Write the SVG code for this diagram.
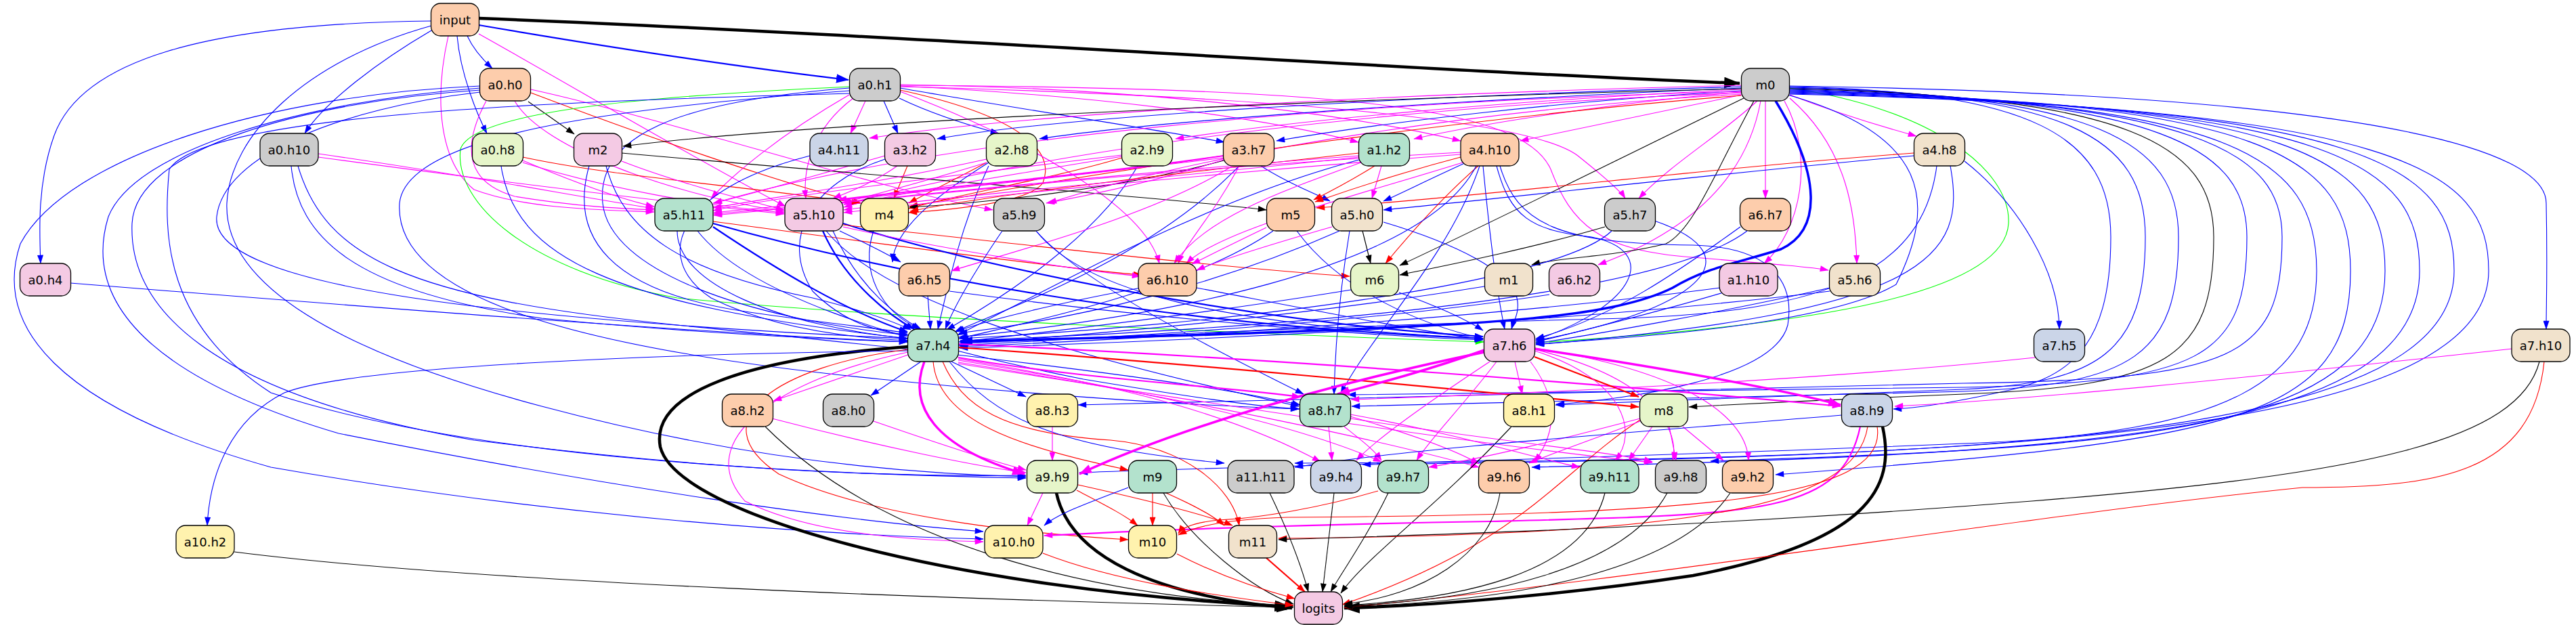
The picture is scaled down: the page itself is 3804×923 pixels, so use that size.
<svg xmlns="http://www.w3.org/2000/svg" width="3804" height="923" viewBox="0 0 3804 923">
<style>
.nd rect{stroke:#000;stroke-width:1.3}
.nd text{font-family:"DejaVu Sans","Liberation Sans",sans-serif;font-size:18px;text-anchor:middle;fill:#000}
.c1 rect{fill:#b3e2cd}.c2 rect{fill:#fdcdac}.c3 rect{fill:#cbd5e8}.c4 rect{fill:#f4cae4}
.c5 rect{fill:#e6f5c9}.c6 rect{fill:#fff2ae}.c7 rect{fill:#f1e2cc}.c8 rect{fill:#cccccc}
#edges path{fill:none;stroke-width:1.1}
#edges .b{stroke:#00f;marker-end:url(#ab)}
#edges .m{stroke:#f0f;marker-end:url(#am)}
#edges .r{stroke:#f00;marker-end:url(#ar)}
#edges .k{stroke:#000;marker-end:url(#ak)}
#edges .g{stroke:#0f0;marker-end:url(#ag)}
#edges .w2{stroke-width:2.2}
#edges .w3{stroke-width:3.5}
#edges .w4{stroke-width:4.5}
#edges .bB{marker-end:url(#abB)}
#edges .mB{marker-end:url(#amB)}
#edges .kB{marker-end:url(#akB)}
</style>
<defs>
<marker id="ab" viewBox="0 0 10 7" refX="9.5" refY="3.5" markerWidth="14" markerHeight="9" markerUnits="userSpaceOnUse" orient="auto"><path d="M0,0L10,3.5L0,7z" fill="#00f"/></marker>
<marker id="am" viewBox="0 0 10 7" refX="9.5" refY="3.5" markerWidth="14" markerHeight="9" markerUnits="userSpaceOnUse" orient="auto"><path d="M0,0L10,3.5L0,7z" fill="#f0f"/></marker>
<marker id="ar" viewBox="0 0 10 7" refX="9.5" refY="3.5" markerWidth="14" markerHeight="9" markerUnits="userSpaceOnUse" orient="auto"><path d="M0,0L10,3.5L0,7z" fill="#f00"/></marker>
<marker id="ak" viewBox="0 0 10 7" refX="9.5" refY="3.5" markerWidth="14" markerHeight="9" markerUnits="userSpaceOnUse" orient="auto"><path d="M0,0L10,3.5L0,7z" fill="#000"/></marker>
<marker id="ag" viewBox="0 0 10 7" refX="9.5" refY="3.5" markerWidth="14" markerHeight="9" markerUnits="userSpaceOnUse" orient="auto"><path d="M0,0L10,3.5L0,7z" fill="#0f0"/></marker>
<marker id="abB" viewBox="0 0 10 7" refX="9.5" refY="3.5" markerWidth="19" markerHeight="14" markerUnits="userSpaceOnUse" orient="auto"><path d="M0,0L10,3.5L0,7z" fill="#00f"/></marker>
<marker id="amB" viewBox="0 0 10 7" refX="9.5" refY="3.5" markerWidth="19" markerHeight="14" markerUnits="userSpaceOnUse" orient="auto"><path d="M0,0L10,3.5L0,7z" fill="#f0f"/></marker>
<marker id="akB" viewBox="0 0 10 7" refX="9.5" refY="3.5" markerWidth="24" markerHeight="17" markerUnits="userSpaceOnUse" orient="auto"><path d="M0,0L10,3.5L0,7z" fill="#000"/></marker>
</defs>
<rect width="3804" height="923" fill="#fff"/>
<g id="edges">
<path class="k w4 kB" d="M707,27 C1300,50 2100,105 2569,123"/>
<path class="b w2 bB" d="M707,37 C900,70 1100,100 1253,118"/>
<path class="b" d="M690,53 C700,75 715,90 727,101"/>
<path class="b" d="M637,45 C560,90 480,150 450,197"/>
<path class="b" d="M675,53 C680,110 705,170 719,197"/>
<path class="b" d="M637,31 C300,35 120,90 80,200 C55,270 58,340 60,389"/>
<path class="b" d="M637,38 C450,90 340,200 335,300 C330,420 500,520 800,600 C1100,680 1350,700 1515,704"/>
<path class="m" d="M662,53 C640,150 650,240 700,280 C780,310 900,310 966,313"/>
<path class="m" d="M707,50 C850,130 1000,220 1160,305"/>
<path class="k" d="M780,150 L848,198"/>
<path class="r" d="M784,137 C950,200 1150,270 1272,300"/>
<path class="m" d="M784,132 C1000,180 1300,280 1466,310"/>
<path class="m" d="M718,149 C680,220 690,270 760,290 C850,305 920,308 966,310"/>
<path class="m" d="M760,149 C800,220 1000,290 1158,312"/>
<path class="b" d="M709,127 C400,140 100,230 30,360 C-10,480 80,600 400,690 C800,760 1200,790 1452,796"/>
<path class="b" d="M709,130 C450,150 200,220 160,320 C120,450 230,560 500,640 C900,720 1250,770 1452,785"/>
<path class="b" d="M709,133 C450,150 200,220 195,330 C190,450 300,580 700,650 C1100,700 1350,704 1515,702"/>
<path class="b" d="M709,136 C500,160 330,230 320,320 C310,420 700,470 1340,500"/>
<path class="m" d="M1278,149 L1256,197"/>
<path class="b" d="M1305,149 L1326,197"/>
<path class="b" d="M1328,145 C1380,170 1430,185 1475,197"/>
<path class="b" d="M1329,130 C1500,160 1700,190 1808,210"/>
<path class="m" d="M1329,127 C1600,140 1850,170 2006,210"/>
<path class="m" d="M1329,125 C1700,130 2000,170 2157,208"/>
<path class="m" d="M1329,128 C1800,140 2250,170 2330,230 C2380,270 2395,285 2400,293"/>
<path class="m" d="M1329,126 C2000,130 2250,160 2290,250 C2320,330 2360,370 2500,380 C2620,390 2680,395 2700,399"/>
<path class="m" d="M1254,140 C1150,200 1080,260 1050,293"/>
<path class="m" d="M1260,145 C1200,190 1185,250 1190,293"/>
<path class="r" d="M1329,133 C1500,170 1560,220 1540,270 C1520,300 1400,310 1342,314"/>
<path class="g" d="M1254,128 C1000,140 700,160 680,220 C670,300 780,400 1000,440 C1300,470 1900,495 2191,505"/>
<path class="b" d="M1254,130 C1000,150 880,200 890,300 C900,400 1100,470 1340,495"/>
<path class="b" d="M1254,134 C900,160 600,200 590,300 C580,450 900,520 1300,560 C1600,590 1800,600 1918,604"/>
<path class="b" d="M1254,138 C800,150 300,170 250,250 C240,350 245,480 400,580 C700,680 1200,700 1515,706"/>
<path class="m" d="M1329,135 C1500,200 1690,300 1712,389"/>
<path class="m" d="M2571,126 C2000,140 1500,170 1284,204"/>
<path class="b" d="M2571,128 C2000,145 1550,175 1384,205"/>
<path class="b" d="M2571,130 C2100,150 1700,180 1535,205"/>
<path class="m" d="M2571,132 C2200,150 1900,180 1736,205"/>
<path class="b" d="M2571,134 C2300,150 2050,180 1885,208"/>
<path class="k" d="M2571,131 C2000,145 1200,180 920,216"/>
<path class="m" d="M2571,136 C2400,150 2200,180 2088,205"/>
<path class="m" d="M2572,140 C2450,165 2330,190 2245,208"/>
<path class="m" d="M2571,135 C2000,150 1400,200 1054,300"/>
<path class="m" d="M2571,137 C2100,155 1600,210 1246,302"/>
<path class="m" d="M2571,139 C2200,160 1800,220 1548,300"/>
<path class="r" d="M2571,141 C2200,170 1700,240 1343,305"/>
<path class="m" d="M2595,149 C2540,200 2470,240 2420,293"/>
<path class="m" d="M2607,149 L2607,293"/>
<path class="m" d="M2643,140 C2720,170 2790,190 2830,201"/>
<path class="m" d="M2643,145 C2730,220 2740,320 2742,389"/>
<path class="m" d="M2635,149 C2680,230 2660,340 2605,389"/>
<path class="m" d="M2600,149 C2580,260 2500,340 2360,391"/>
<path class="k" d="M2590,149 C2530,260 2500,340 2460,360 C2380,380 2300,380 2262,391"/>
<path class="k" d="M2575,145 C2400,230 2200,330 2067,392"/>
<path class="b w3 bB" d="M2622,149 C2690,260 2690,340 2630,368 C2560,390 2520,395 2470,425 C2380,470 2200,478 1900,490 C1700,498 1500,502 1418,504"/>
<path class="g" d="M2643,130 C2850,160 2970,250 2966,330 C2960,430 2700,480 2268,506"/>
<path class="b" d="M2640,140 C2850,200 2860,300 2800,420 C2700,480 2400,500 2268,508"/>
<path class="b" d="M2643,128 C3000,135 3117,200 3117,350 C3117,520 3050,560 2950,580 C2880,595 2830,603 2796,604"/>
<path class="b" d="M2643,129 C3050,138 3168,200 3168,350 C3168,520 3100,565 2900,575 C2600,588 2400,595 2297,598"/>
<path class="b" d="M2643,130 C3100,140 3217,210 3217,350 C3217,525 3150,568 2900,578 C2500,590 2150,598 1996,600"/>
<path class="k" d="M2643,131 C3150,142 3269,215 3269,350 C3269,530 3200,570 2900,582 C2700,590 2550,598 2494,601"/>
<path class="b" d="M2643,132 C3200,145 3318,220 3318,350 C3318,530 3250,565 2900,572 C2500,578 2150,580 1990,583"/>
<path class="b" d="M2643,133 C3250,148 3370,225 3370,350 C3370,530 3300,560 2900,566 C2400,575 1900,590 1592,598"/>
<path class="b" d="M2643,134 C3300,150 3421,230 3421,400 C3421,560 3300,640 2900,655 C2300,680 1800,690 1594,698"/>
<path class="b" d="M2643,135 C3350,150 3471,230 3471,400 C3471,620 3300,650 2622,701"/>
<path class="b" d="M2643,136 C3400,152 3522,235 3522,400 C3522,630 3200,660 2526,681"/>
<path class="b" d="M2643,137 C3450,155 3573,240 3573,400 C3573,640 3100,670 2262,690"/>
<path class="b" d="M2643,138 C3500,157 3624,245 3624,400 C3624,640 3000,675 2012,686"/>
<path class="b" d="M2643,139 C3550,160 3675,250 3675,400 C3675,650 2900,680 1912,684"/>
<path class="b" d="M2643,127 C3500,140 3760,220 3760,300 C3762,400 3760,450 3760,486"/>
<path class="r" d="M2826,226 C2500,250 2200,290 1944,307"/>
<path class="b" d="M2826,230 C2500,260 2250,290 2043,310"/>
<path class="b" d="M2901,238 C2980,300 3040,400 3041,486"/>
<path class="b" d="M2860,245 C2840,400 2700,460 2400,470 C2000,480 1700,495 1418,507"/>
<path class="b" d="M2880,245 C2905,380 2850,460 2268,509"/>
<path class="m" d="M470,227 C700,260 850,290 966,308"/>
<path class="m" d="M470,232 C750,270 1000,300 1158,316"/>
<path class="b" d="M430,245 C440,350 520,430 800,470 C1000,490 1200,500 1340,505"/>
<path class="b" d="M440,245 C480,380 600,440 1000,480 C1500,530 1800,570 1920,598"/>
<path class="m" d="M772,237 C850,270 920,295 966,305"/>
<path class="m" d="M772,240 C900,280 1050,305 1158,314"/>
<path class="r" d="M772,232 C900,260 1100,275 1270,300"/>
<path class="b" d="M740,245 C760,380 900,450 1340,500"/>
<path class="k" d="M918,226 C1300,260 1700,290 1870,310"/>
<path class="m" d="M918,238 C1000,270 1100,295 1158,310"/>
<path class="b" d="M870,245 C840,350 900,430 1100,460 C1200,475 1300,485 1340,492"/>
<path class="b" d="M895,245 C920,340 1000,400 1200,440 C1280,460 1320,475 1345,487"/>
<path class="b" d="M1196,230 C1000,280 960,380 1050,440 C1150,490 1280,500 1341,503"/>
<path class="r" d="M1340,245 L1320,293"/>
<path class="m" d="M1307,230 C1200,260 1100,290 1053,300"/>
<path class="m" d="M1325,245 C1290,270 1250,285 1230,293"/>
<path class="b" d="M1307,235 C1200,270 1150,350 1200,430 C1250,480 1300,490 1342,495"/>
<path class="r" d="M1457,240 C1400,270 1360,290 1342,300"/>
<path class="m" d="M1457,235 C1300,270 1150,290 1053,307"/>
<path class="m" d="M1457,240 C1360,270 1280,290 1244,300"/>
<path class="b" d="M1460,240 C1380,290 1320,340 1318,387"/>
<path class="b" d="M1460,245 C1420,330 1400,420 1385,486"/>
<path class="r" d="M1657,233 C1550,265 1400,290 1342,308"/>
<path class="m" d="M1657,229 C1400,260 1150,290 1053,311"/>
<path class="m" d="M1657,231 C1450,265 1300,290 1246,306"/>
<path class="b" d="M1680,245 C1620,350 1480,440 1398,487"/>
<path class="b" d="M1862,245 C1900,270 1940,285 1964,297"/>
<path class="k" d="M1807,237 C1650,280 1450,300 1343,306"/>
<path class="m" d="M1807,236 C1700,270 1600,290 1545,300"/>
<path class="m" d="M1807,233 C1500,270 1200,300 1054,314"/>
<path class="m w2" d="M1807,230 C1600,260 1350,280 1238,295"/>
<path class="m" d="M1820,245 C1700,320 1500,370 1405,400"/>
<path class="b" d="M1830,245 C1700,380 1500,450 1410,490"/>
<path class="m" d="M1830,245 C1790,320 1750,360 1740,389"/>
<path class="r" d="M2030,245 C1990,270 1960,285 1940,295"/>
<path class="m" d="M2040,245 L2026,293"/>
<path class="r" d="M2007,226 C1700,260 1450,290 1344,312"/>
<path class="m" d="M2010,240 C1900,280 1780,320 1734,389"/>
<path class="m" d="M2007,230 C1600,260 1250,300 1054,316"/>
<path class="m" d="M2007,232 C1700,265 1400,290 1246,310"/>
<path class="b" d="M2007,236 C1800,290 1600,400 1414,495"/>
<path class="b" d="M2165,240 C2110,265 2070,285 2043,297"/>
<path class="r" d="M2157,232 C2050,260 1980,285 1942,298"/>
<path class="r" d="M2183,245 C2120,300 2070,360 2046,389"/>
<path class="b" d="M2185,245 C2140,380 2020,500 1980,582"/>
<path class="b" d="M2180,245 C2100,400 1700,470 1416,498"/>
<path class="b" d="M2210,245 C2230,320 2260,340 2350,350 C2450,370 2420,450 2268,502"/>
<path class="b" d="M2215,245 C2240,330 2300,360 2500,362 C2620,365 2650,420 2640,480 C2620,560 2400,590 2298,597"/>
<path class="m" d="M2157,225 C1700,250 1300,295 1054,318"/>
<path class="m" d="M2157,228 C1800,255 1450,290 1246,314"/>
<path class="m" d="M2160,240 C2000,290 1800,340 1752,389"/>
<path class="b" d="M2190,245 C2200,350 2210,430 2222,486"/>
<path class="b w2" d="M1053,335 C1150,400 1250,460 1340,490"/>
<path class="b w2" d="M1053,330 C1300,400 1700,480 2190,500"/>
<path class="b" d="M1030,341 C1100,430 1300,500 1600,560 C1750,585 1850,600 1919,604"/>
<path class="r" d="M1053,327 C1300,360 1600,400 1686,406"/>
<path class="b" d="M1000,341 C1000,420 1150,480 1340,500"/>
<path class="b w2" d="M1215,341 C1250,420 1320,470 1350,486"/>
<path class="b w2" d="M1245,330 C1500,410 1900,480 2190,497"/>
<path class="b" d="M1240,341 C1280,360 1310,375 1330,387"/>
<path class="m" d="M1245,335 C1400,370 1600,400 1684,408"/>
<path class="r" d="M1245,332 C1500,360 1800,395 1993,408"/>
<path class="b" d="M1230,341 C1270,430 1330,470 1360,486"/>
<path class="b" d="M1220,341 C1300,440 1550,520 1918,600"/>
<path class="b" d="M1290,341 C1270,400 1300,460 1358,486"/>
<path class="b" d="M1480,341 C1440,400 1410,450 1396,486"/>
<path class="b" d="M1530,341 C1600,430 1800,480 2190,500"/>
<path class="b" d="M1530,341 C1600,420 1800,520 1925,582"/>
<path class="m" d="M1870,336 C1820,360 1780,380 1760,390"/>
<path class="b" d="M1880,341 C1750,430 1500,480 1416,500"/>
<path class="b" d="M1915,341 C1980,430 2100,480 2190,500"/>
<path class="k" d="M2012,341 L2024,389"/>
<path class="m" d="M1967,335 C1880,360 1800,385 1767,399"/>
<path class="b" d="M1993,341 C1980,420 1972,500 1970,582"/>
<path class="b" d="M1978,341 C1800,420 1600,470 1416,492"/>
<path class="b" d="M2043,328 C2150,360 2230,400 2240,440 C2245,460 2235,475 2232,486"/>
<path class="k" d="M2370,335 C2250,370 2120,395 2067,406"/>
<path class="b" d="M2443,326 C2600,380 2500,460 2268,503"/>
<path class="b" d="M2380,341 C2300,420 1800,480 1418,500"/>
<path class="b" d="M2570,335 C2480,400 2380,470 2268,500"/>
<path class="b" d="M2580,341 C2450,440 1900,485 1418,503"/>
<path class="b" d="M104,418 C500,450 1000,490 1340,505"/>
<path class="b" d="M1370,437 L1374,486"/>
<path class="b" d="M1402,430 C1700,470 2000,495 2190,502"/>
<path class="b" d="M1685,425 C1550,450 1450,475 1412,490"/>
<path class="b" d="M1767,425 C1950,460 2100,490 2190,501"/>
<path class="b" d="M2066,432 C2130,455 2170,475 2190,488"/>
<path class="b" d="M1995,428 C1800,460 1550,490 1416,505"/>
<path class="b" d="M2192,423 C1900,470 1600,495 1416,508"/>
<path class="b" d="M2288,435 C2000,480 1600,500 1416,510"/>
<path class="b" d="M2540,425 C2200,470 1700,500 1417,512"/>
<path class="b" d="M2545,432 C2450,460 2330,490 2268,505"/>
<path class="b" d="M2702,425 C2550,460 2350,495 2268,507"/>
<path class="b" d="M2702,430 C2300,480 1700,505 1417,514"/>
<path class="k w4 kB" d="M1341,512 C1100,530 960,580 975,660 C1000,760 1400,870 1905,896"/>
<path class="b" d="M1341,518 C1000,522 520,540 420,580 C340,620 310,700 306,776"/>
<path class="m" d="M1341,524 L1142,592"/>
<path class="b" d="M1360,534 L1286,584"/>
<path class="b" d="M1405,534 L1515,586"/>
<path class="m w3 mB" d="M1365,534 C1340,600 1380,660 1513,700"/>
<path class="r" d="M1378,534 C1385,620 1500,660 1666,694"/>
<path class="r" d="M1392,534 C1420,600 1480,640 1640,650 C1750,660 1820,720 1830,776"/>
<path class="b" d="M1402,534 C1470,620 1560,660 1808,684"/>
<path class="m w2" d="M1415,508 C1900,530 2400,570 2718,600"/>
<path class="r w2" d="M1415,513 C1800,540 2200,580 2420,601"/>
<path class="m w2" d="M1415,528 C1600,560 1800,570 1920,586"/>
<path class="m" d="M1415,530 C1600,560 1800,600 1950,682"/>
<path class="m" d="M1415,532 C1650,570 1900,620 2040,682"/>
<path class="m" d="M1415,535 C1700,580 2000,640 2184,690"/>
<path class="m" d="M1415,537 C1750,590 2200,660 2440,683"/>
<path class="m" d="M1341,520 C1150,560 1020,650 1100,740 C1200,790 1350,798 1452,800"/>
<path class="r" d="M1341,516 C1150,540 1030,620 1150,700 C1300,770 1550,790 1666,797"/>
<path class="m w3 mB" d="M2192,517 C2100,550 2020,570 1975,582"/>
<path class="m w3 mB" d="M2192,520 C1900,580 1700,650 1594,700"/>
<path class="m w3 mB" d="M2266,515 C2500,550 2650,580 2718,598"/>
<path class="r w2" d="M2266,527 L2420,586"/>
<path class="m" d="M2237,534 L2248,582"/>
<path class="m" d="M2200,534 C2100,600 2030,650 2003,680"/>
<path class="m" d="M2210,534 C2160,600 2110,650 2092,680"/>
<path class="m" d="M2260,534 C2310,600 2290,650 2266,682"/>
<path class="m" d="M2266,518 C2400,560 2420,640 2385,680"/>
<path class="m" d="M2266,516 C2450,560 2480,640 2470,680"/>
<path class="m" d="M2266,514 C2500,550 2580,620 2582,680"/>
<path class="m" d="M1140,618 C1300,660 1450,690 1515,698"/>
<path class="k" d="M1130,630 C1300,800 1600,880 1910,895"/>
<path class="m" d="M1290,622 C1400,660 1480,685 1515,694"/>
<path class="m" d="M1554,630 L1554,680"/>
<path class="m" d="M1962,630 L1967,680"/>
<path class="m" d="M1985,630 C2010,650 2030,665 2040,680"/>
<path class="m" d="M1994,615 C2080,640 2150,665 2184,685"/>
<path class="m" d="M1994,612 C2150,640 2280,680 2333,690"/>
<path class="m" d="M1994,618 C2200,650 2400,670 2440,682"/>
<path class="k" d="M2232,630 C2120,750 2020,820 1980,876"/>
<path class="r" d="M2422,620 C2300,700 2250,800 1982,893"/>
<path class="m" d="M2422,618 C2300,650 2200,675 2110,690"/>
<path class="m" d="M2422,622 C2350,650 2290,670 2258,684"/>
<path class="m" d="M2440,630 L2405,680"/>
<path class="m" d="M2465,630 L2475,680"/>
<path class="m" d="M2485,630 L2545,680"/>
<path class="k w4 kB" d="M2780,630 C2800,720 2760,800 2500,850 C2300,880 2100,895 1985,898"/>
<path class="m w2" d="M2747,630 C2720,760 2600,760 2200,770 C1900,775 1650,785 1542,791"/>
<path class="r" d="M2758,630 C2740,750 2500,790 1888,795"/>
<path class="r" d="M2772,630 C2790,740 2500,760 1900,764 C1800,767 1760,780 1740,790"/>
<path class="b" d="M2720,613 C2400,640 2100,660 1912,690"/>
<path class="m" d="M3710,515 C3300,560 3000,590 2798,600"/>
<path class="k" d="M3750,534 C3720,650 3500,700 3000,740 C2500,780 2100,790 1888,797"/>
<path class="r" d="M3757,534 C3740,700 3600,720 3400,720 C3000,760 2400,860 1985,897"/>
<path class="m" d="M3005,528 C2700,560 2300,580 1995,590"/>
<path class="k w4 kB" d="M1560,728 C1580,820 1700,880 1908,898"/>
<path class="m" d="M1540,728 L1517,776"/>
<path class="r" d="M1590,724 C1630,745 1660,760 1680,776"/>
<path class="r" d="M1592,716 C1700,740 1780,760 1820,776"/>
<path class="b" d="M1666,720 C1600,745 1560,760 1542,776"/>
<path class="r" d="M1702,728 L1702,776"/>
<path class="r" d="M1722,728 C1760,745 1790,760 1808,776"/>
<path class="k" d="M1718,728 C1760,800 1850,870 1910,892"/>
<path class="k" d="M1875,728 C1900,780 1920,830 1932,874"/>
<path class="k" d="M1970,728 L1953,874"/>
<path class="k" d="M2050,728 C2020,790 1985,840 1965,874"/>
<path class="r" d="M2035,725 C1950,750 1860,765 1800,768 C1760,772 1745,780 1740,788"/>
<path class="k" d="M2215,728 C2200,820 2100,880 1985,892"/>
<path class="k" d="M2370,728 C2340,850 2150,885 1985,894"/>
<path class="k" d="M2462,728 C2400,840 2200,885 1985,895"/>
<path class="k" d="M2555,728 C2480,840 2250,888 1985,896"/>
<path class="k" d="M346,815 C700,860 1400,885 1910,897"/>
<path class="r" d="M1540,817 C1650,860 1800,880 1910,894"/>
<path class="r" d="M1738,818 C1800,850 1860,870 1912,884"/>
<path class="r w2" d="M1870,824 L1927,874"/>
</g>
<g id="n-input" class="nd c2"><rect x="636.5" y="5" width="71" height="48" rx="14"/><text x="672" y="35.5">input</text></g>
<g id="n-a0h0" class="nd c2"><rect x="708.5" y="101" width="75" height="48" rx="14"/><text x="746" y="131.5">a0.h0</text></g>
<g id="n-a0h1" class="nd c8"><rect x="1254.5" y="101" width="75" height="48" rx="14"/><text x="1292" y="131.5">a0.h1</text></g>
<g id="n-m0" class="nd c8"><rect x="2571.5" y="101" width="71" height="48" rx="14"/><text x="2607" y="131.5">m0</text></g>
<g id="n-a0h10" class="nd c8"><rect x="384" y="197" width="86" height="48" rx="14"/><text x="427" y="227.5">a0.h10</text></g>
<g id="n-a0h8" class="nd c5"><rect x="697.5" y="197" width="75" height="48" rx="14"/><text x="735" y="227.5">a0.h8</text></g>
<g id="n-m2" class="nd c4"><rect x="847.5" y="197" width="71" height="48" rx="14"/><text x="883" y="227.5">m2</text></g>
<g id="n-a4h11" class="nd c3"><rect x="1196" y="197" width="86" height="48" rx="14"/><text x="1239" y="227.5">a4.h11</text></g>
<g id="n-a3h2" class="nd c4"><rect x="1306.5" y="197" width="75" height="48" rx="14"/><text x="1344" y="227.5">a3.h2</text></g>
<g id="n-a2h8" class="nd c5"><rect x="1456.5" y="197" width="75" height="48" rx="14"/><text x="1494" y="227.5">a2.h8</text></g>
<g id="n-a2h9" class="nd c5"><rect x="1656.5" y="197" width="75" height="48" rx="14"/><text x="1694" y="227.5">a2.h9</text></g>
<g id="n-a3h7" class="nd c2"><rect x="1806.5" y="197" width="75" height="48" rx="14"/><text x="1844" y="227.5">a3.h7</text></g>
<g id="n-a1h2" class="nd c1"><rect x="2006.5" y="197" width="75" height="48" rx="14"/><text x="2044" y="227.5">a1.h2</text></g>
<g id="n-a4h10" class="nd c2"><rect x="2157" y="197" width="86" height="48" rx="14"/><text x="2200" y="227.5">a4.h10</text></g>
<g id="n-a4h8" class="nd c7"><rect x="2826.5" y="197" width="75" height="48" rx="14"/><text x="2864" y="227.5">a4.h8</text></g>
<g id="n-a5h11" class="nd c1"><rect x="967" y="293" width="86" height="48" rx="14"/><text x="1010" y="323.5">a5.h11</text></g>
<g id="n-a5h10" class="nd c4"><rect x="1159" y="293" width="86" height="48" rx="14"/><text x="1202" y="323.5">a5.h10</text></g>
<g id="n-m4" class="nd c6"><rect x="1270.5" y="293" width="71" height="48" rx="14"/><text x="1306" y="323.5">m4</text></g>
<g id="n-a5h9" class="nd c8"><rect x="1467.5" y="293" width="75" height="48" rx="14"/><text x="1505" y="323.5">a5.h9</text></g>
<g id="n-m5" class="nd c2"><rect x="1870.5" y="293" width="71" height="48" rx="14"/><text x="1906" y="323.5">m5</text></g>
<g id="n-a5h0" class="nd c7"><rect x="1966.5" y="293" width="75" height="48" rx="14"/><text x="2004" y="323.5">a5.h0</text></g>
<g id="n-a5h7" class="nd c8"><rect x="2369.5" y="293" width="75" height="48" rx="14"/><text x="2407" y="323.5">a5.h7</text></g>
<g id="n-a6h7" class="nd c2"><rect x="2569.5" y="293" width="75" height="48" rx="14"/><text x="2607" y="323.5">a6.h7</text></g>
<g id="n-a0h4" class="nd c4"><rect x="29.5" y="389" width="75" height="48" rx="14"/><text x="67" y="419.5">a0.h4</text></g>
<g id="n-a6h5" class="nd c2"><rect x="1327.5" y="389" width="75" height="48" rx="14"/><text x="1365" y="419.5">a6.h5</text></g>
<g id="n-a6h10" class="nd c2"><rect x="1681" y="389" width="86" height="48" rx="14"/><text x="1724" y="419.5">a6.h10</text></g>
<g id="n-m6" class="nd c5"><rect x="1994.5" y="389" width="71" height="48" rx="14"/><text x="2030" y="419.5">m6</text></g>
<g id="n-m1" class="nd c7"><rect x="2192.5" y="389" width="71" height="48" rx="14"/><text x="2228" y="419.5">m1</text></g>
<g id="n-a6h2" class="nd c4"><rect x="2287.5" y="389" width="75" height="48" rx="14"/><text x="2325" y="419.5">a6.h2</text></g>
<g id="n-a1h10" class="nd c4"><rect x="2539" y="389" width="86" height="48" rx="14"/><text x="2582" y="419.5">a1.h10</text></g>
<g id="n-a5h6" class="nd c7"><rect x="2701.5" y="389" width="75" height="48" rx="14"/><text x="2739" y="419.5">a5.h6</text></g>
<g id="n-a7h4" class="nd c1"><rect x="1340.5" y="486" width="75" height="48" rx="14"/><text x="1378" y="516.5">a7.h4</text></g>
<g id="n-a7h6" class="nd c4"><rect x="2191.5" y="486" width="75" height="48" rx="14"/><text x="2229" y="516.5">a7.h6</text></g>
<g id="n-a7h5" class="nd c3"><rect x="3003.5" y="486" width="75" height="48" rx="14"/><text x="3041" y="516.5">a7.h5</text></g>
<g id="n-a7h10" class="nd c7"><rect x="3709" y="486" width="86" height="48" rx="14"/><text x="3752" y="516.5">a7.h10</text></g>
<g id="n-a8h2" class="nd c2"><rect x="1066.5" y="582" width="75" height="48" rx="14"/><text x="1104" y="612.5">a8.h2</text></g>
<g id="n-a8h0" class="nd c8"><rect x="1215.5" y="582" width="75" height="48" rx="14"/><text x="1253" y="612.5">a8.h0</text></g>
<g id="n-a8h3" class="nd c6"><rect x="1516.5" y="582" width="75" height="48" rx="14"/><text x="1554" y="612.5">a8.h3</text></g>
<g id="n-a8h7" class="nd c1"><rect x="1919.5" y="582" width="75" height="48" rx="14"/><text x="1957" y="612.5">a8.h7</text></g>
<g id="n-a8h1" class="nd c6"><rect x="2220.5" y="582" width="75" height="48" rx="14"/><text x="2258" y="612.5">a8.h1</text></g>
<g id="n-m8" class="nd c5"><rect x="2421.5" y="582" width="71" height="48" rx="14"/><text x="2457" y="612.5">m8</text></g>
<g id="n-a8h9" class="nd c3"><rect x="2719.5" y="582" width="75" height="48" rx="14"/><text x="2757" y="612.5">a8.h9</text></g>
<g id="n-a9h9" class="nd c5"><rect x="1516.5" y="680" width="75" height="48" rx="14"/><text x="1554" y="710.5">a9.h9</text></g>
<g id="n-m9" class="nd c1"><rect x="1666.5" y="680" width="71" height="48" rx="14"/><text x="1702" y="710.5">m9</text></g>
<g id="n-a11h11" class="nd c8"><rect x="1813" y="680" width="98" height="48" rx="14"/><text x="1862" y="710.5">a11.h11</text></g>
<g id="n-a9h4" class="nd c3"><rect x="1935.5" y="680" width="75" height="48" rx="14"/><text x="1973" y="710.5">a9.h4</text></g>
<g id="n-a9h7" class="nd c1"><rect x="2034.5" y="680" width="75" height="48" rx="14"/><text x="2072" y="710.5">a9.h7</text></g>
<g id="n-a9h6" class="nd c2"><rect x="2183.5" y="680" width="75" height="48" rx="14"/><text x="2221" y="710.5">a9.h6</text></g>
<g id="n-a9h11" class="nd c1"><rect x="2334" y="680" width="86" height="48" rx="14"/><text x="2377" y="710.5">a9.h11</text></g>
<g id="n-a9h8" class="nd c8"><rect x="2444.5" y="680" width="75" height="48" rx="14"/><text x="2482" y="710.5">a9.h8</text></g>
<g id="n-a9h2" class="nd c2"><rect x="2543.5" y="680" width="75" height="48" rx="14"/><text x="2581" y="710.5">a9.h2</text></g>
<g id="n-a10h2" class="nd c6"><rect x="260" y="776" width="86" height="48" rx="14"/><text x="303" y="806.5">a10.h2</text></g>
<g id="n-a10h0" class="nd c6"><rect x="1454" y="776" width="86" height="48" rx="14"/><text x="1497" y="806.5">a10.h0</text></g>
<g id="n-m10" class="nd c6"><rect x="1666.5" y="776" width="71" height="48" rx="14"/><text x="1702" y="806.5">m10</text></g>
<g id="n-m11" class="nd c7"><rect x="1814.5" y="776" width="71" height="48" rx="14"/><text x="1850" y="806.5">m11</text></g>
<g id="n-logits" class="nd c4"><rect x="1911.5" y="874" width="71" height="48" rx="14"/><text x="1947" y="904.5">logits</text></g>
</svg>
